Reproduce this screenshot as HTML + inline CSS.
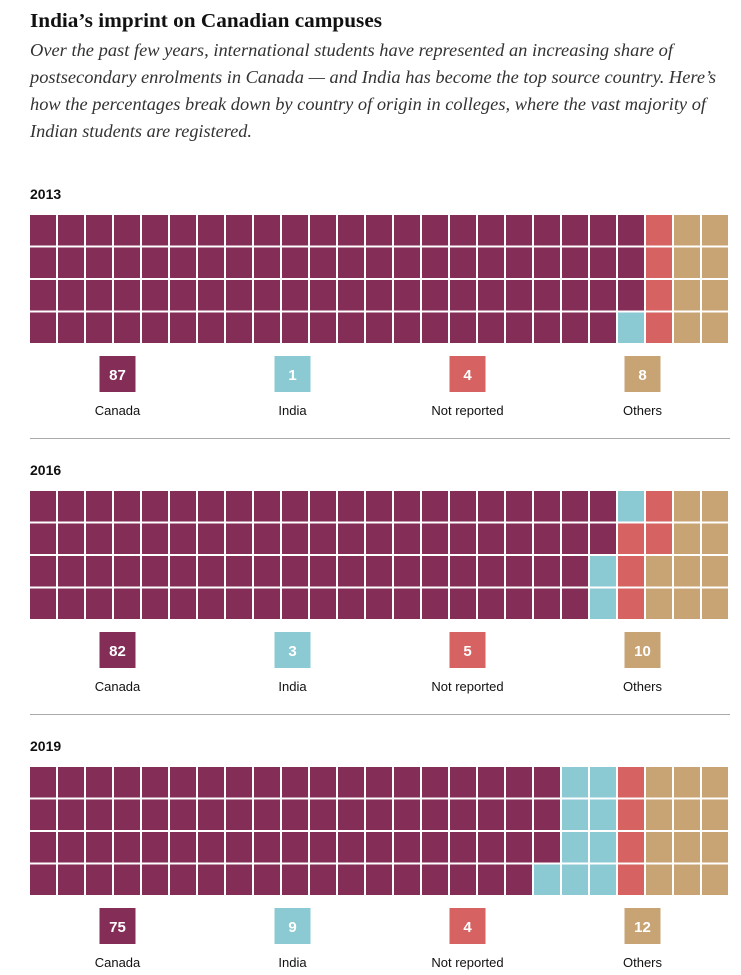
<!DOCTYPE html>
<html><head><meta charset="utf-8"><style>
body{margin:0;background:#fff;width:741px;height:975px;overflow:hidden;position:relative;font-family:"Liberation Sans",sans-serif}
</style></head><body>
<svg id="head" width="741" height="150" style="position:absolute;left:0;top:0">
<text x="30" y="27" font-family="Liberation Serif, serif" font-weight="bold" font-size="20" fill="#111" textLength="352" lengthAdjust="spacingAndGlyphs">India’s imprint on Canadian campuses</text>
<g font-family="Liberation Serif, serif" font-style="italic" font-size="18" fill="#333">
<text x="30" y="56" textLength="643" lengthAdjust="spacingAndGlyphs">Over the past few years, international students have represented an increasing share of</text>
<text x="30" y="83" textLength="686" lengthAdjust="spacingAndGlyphs">postsecondary enrolments in Canada — and India has become the top source country. Here’s</text>
<text x="30" y="110" textLength="676" lengthAdjust="spacingAndGlyphs">how the percentages break down by country of origin in colleges, where the vast majority of</text>
<text x="30" y="137" textLength="222" lengthAdjust="spacingAndGlyphs">Indian students are registered.</text>
</g>
</svg>
<svg id="chart" width="741" height="975" style="position:absolute;left:0;top:0"></svg>
<script>
const years=["2013","2016","2019"];
const categories=["Canada","India","Not reported","Others"];
const canada=[87,82,75];
const india=[1,3,9];
const notReported=[4,5,4];
const others=[8,10,12];
const colors=["#842d56","#8ccad3","#d66262","#c8a374"];
const NS="http://www.w3.org/2000/svg";
const svg=document.getElementById("chart");
const x0=30,W=700,cols=25,rows=4,cw=W/cols,rh=32.5,gap=2;
function mk(t,a){const e=document.createElementNS(NS,t);for(const k in a)e.setAttribute(k,a[k]);svg.appendChild(e);return e;}
years.forEach((yr,i)=>{
  const top=191+i*276;
  const t=mk("text",{x:x0,y:top+8,"font-size":14,"font-weight":"bold",fill:"#111"});
  
  
  t.textContent=yr;
  const vals=[canada[i],india[i],notReported[i],others[i]];
  const gy=top+24;let idx=0;
  vals.forEach((v,c)=>{for(let k=0;k<v&&idx<100;k++,idx++){
    const col=Math.floor(idx/rows),row=idx%rows;
    const r=mk("rect",{x:x0+col*cw,y:gy+row*rh,width:cw-gap,height:rh-gap,fill:colors[c]});
    
    
  }});
  const ly=gy+rows*rh+11;
  vals.forEach((v,c)=>{
    const cx=x0+175*c+87.5;
    const b=mk("rect",{x:cx-18,y:ly,width:36,height:36,fill:colors[c]});
    
    
    const n=mk("text",{x:cx,y:ly+24,"text-anchor":"middle","font-size":15,"font-weight":"bold",fill:"#fff"});
    
    
    n.textContent=v;
    const l=mk("text",{x:cx,y:ly+59,"text-anchor":"middle","font-size":13,fill:"#111"});
    
    
    l.textContent=categories[c];
  });
  if(i<2){const d=mk("rect",{x:x0,y:ly+82,width:W,height:1,fill:"#aaa"});
    
    }
});
</script>
</body></html>
